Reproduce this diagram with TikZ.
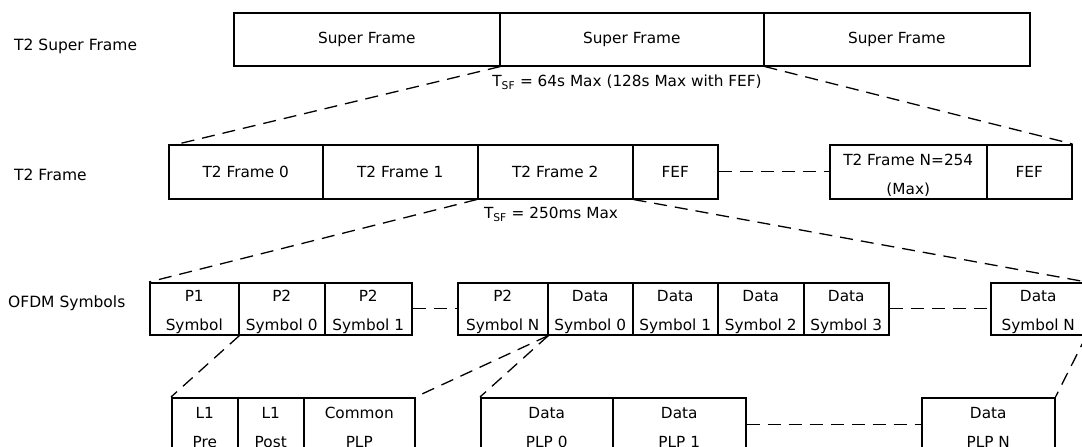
\documentclass[tikz,border=0pt]{standalone}
\usepackage{fontspec}
\setmainfont{DejaVu Sans}
\usetikzlibrary{calc}
% two-line cell text, with a strut that lowers the pair to the cell's middle
\newcommand{\celltwo}[2]{\rule{0pt}{18pt}#1\\#2}
\tikzset{
  cell/.style={draw, line width=1.5pt, inner sep=0pt, anchor=north west,
    align=center, font=\fontsize{15.3}{29}\selectfont},
  rowlabel/.style={inner sep=0pt, anchor=west, font=\fontsize{15.5}{18}\selectfont},
  timing/.style={inner sep=0pt, font=\fontsize{15.3}{18}\selectfont},
  link/.style={line width=1.3pt, dash pattern=on 13pt off 8pt}
}
\begin{document}
\begin{tikzpicture}[x=1pt, y=-1pt]
\useasboundingbox (0,0) rectangle (1082,447);
\fill[white] (0,0) rectangle (1082,447);

% row labels
\node[rowlabel] (lsf)   at (14,46)  {T2 Super Frame};
\node[rowlabel] (lfr)   at (14,175) {T2 Frame};
\node[rowlabel] (lofdm) at (8,303)  {OFDM Symbols};

% super frames
\node[cell, minimum width=266, minimum height=53] (sf1) at (233,12) {Super Frame};
\node[cell, minimum width=264, minimum height=53] (sf2) at (499,12) {Super Frame};
\node[cell, minimum width=266, minimum height=53] (sf3) at (763,12) {Super Frame};
\node[timing] (tsf) at (627,82) {T\textsubscript{SF} = 64s Max (128s Max with FEF)};

% T2 frames
\node[cell, minimum width=154, minimum height=54] (f0)   at (168,144) {T2 Frame 0};
\node[cell, minimum width=155, minimum height=54] (f1)   at (322,144) {T2 Frame 1};
\node[cell, minimum width=155, minimum height=54] (f2)   at (477,144) {T2 Frame 2};
\node[cell, minimum width=85,  minimum height=54] (fef1) at (632,144) {FEF};
\node[cell, minimum width=157, minimum height=54] (fN)   at (829,144) {\celltwo{T2 Frame N=254}{(Max)}};
\node[cell, minimum width=85,  minimum height=54] (fef2) at (986,144) {FEF};
\node[timing] (tfr) at (551,214) {T\textsubscript{SF} = 250ms Max};

% OFDM symbols
\node[cell, minimum width=89, minimum height=52] (p1)  at (149,282) {\celltwo{P1}{Symbol}};
\node[cell, minimum width=86, minimum height=52] (p2a) at (238,282) {\celltwo{P2}{Symbol 0}};
\node[cell, minimum width=87, minimum height=52] (p2b) at (324,282) {\celltwo{P2}{Symbol 1}};
\node[cell, minimum width=90, minimum height=52] (p2n) at (457,282) {\celltwo{P2}{Symbol N}};
\node[cell, minimum width=85, minimum height=52] (d0)  at (547,282) {\celltwo{Data}{Symbol 0}};
\node[cell, minimum width=85, minimum height=52] (d1)  at (632,282) {\celltwo{Data}{Symbol 1}};
\node[cell, minimum width=86, minimum height=52] (d2)  at (717,282) {\celltwo{Data}{Symbol 2}};
\node[cell, minimum width=85, minimum height=52] (d3)  at (803,282) {\celltwo{Data}{Symbol 3}};
\node[cell, minimum width=95, minimum height=52] (dn)  at (990,282) {\celltwo{Data}{Symbol N}};

% contents of the symbols
\node[cell, minimum width=66,  minimum height=53] (l1pre)  at (171,397) {\celltwo{L1}{Pre}};
\node[cell, minimum width=66,  minimum height=53] (l1post) at (237,397) {\celltwo{L1}{Post}};
\node[cell, minimum width=111, minimum height=53] (cplp)   at (303,397) {\celltwo{Common}{PLP}};
\node[cell, minimum width=132, minimum height=53] (dp0)    at (480,397) {\celltwo{Data}{PLP 0}};
\node[cell, minimum width=133, minimum height=53] (dp1)    at (612,397) {\celltwo{Data}{PLP 1}};
\node[cell, minimum width=133, minimum height=53] (dpn)    at (921,397) {\celltwo{Data}{PLP N}};

% expansion and continuation lines
\draw[link] (sf1.south east) -- ($(f0.north west)+(10,0)$);
\draw[link] (sf2.south east) -- (fef2.north east);
\draw[link] (fef1.east) -- (fN.west);
\draw[link] (f2.south west) -- (p1.north west);
\draw[link] (f2.south east) -- (dn.north east);
\draw[link] (p2b.east) -- (p2n.west);
\draw[link] (d3.east) -- (dn.west);
\draw[link] (p1.south east) -- (l1pre.north west);
\draw[link] (p2n.south east) -- (cplp.north east);
\draw[link] (p2n.south east) -- (dp0.north west);
\draw[link] (dn.south east) -- (dpn.north east);
\draw[link] (dp1.east) -- (dpn.west);
\end{tikzpicture}
\end{document}
